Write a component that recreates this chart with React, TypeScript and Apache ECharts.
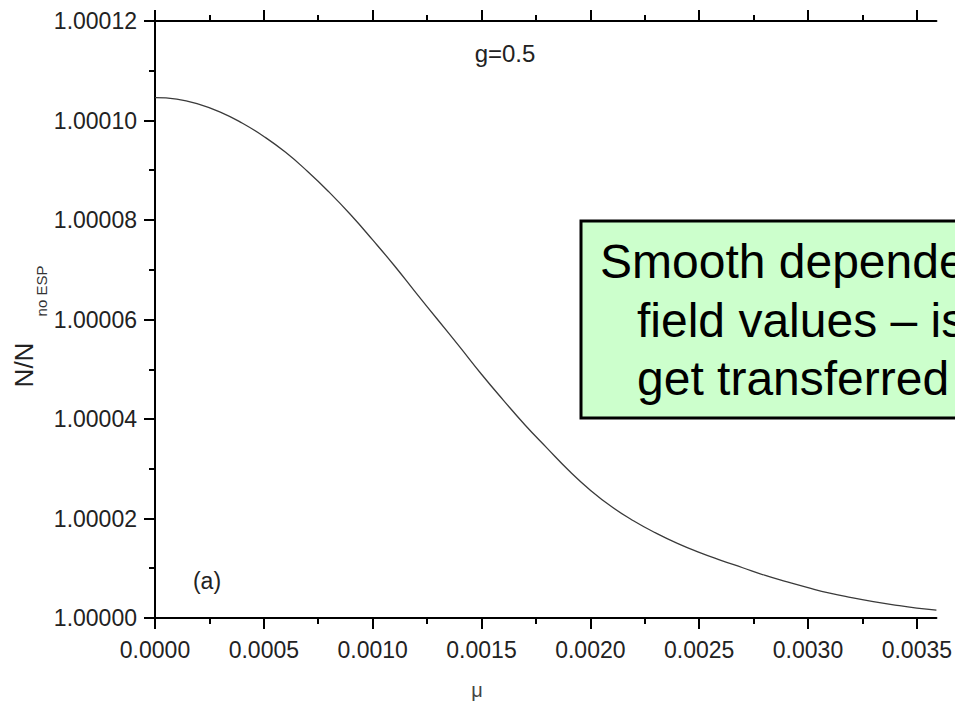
import React, { useEffect, useRef } from "react";
import * as echarts from "echarts";

// Chemical potential μ and the ratio N/N(no ESP) along the curve (g = 0.5)
const muValues = [
  0, 0.0001, 0.0002, 0.0003, 0.0004, 0.0005, 0.0006, 0.0007, 0.0008, 0.0009,
  0.001, 0.0011, 0.0012, 0.0013, 0.0014, 0.0015, 0.0016, 0.0017, 0.0018, 0.0019,
  0.002, 0.0021, 0.0022, 0.0023, 0.0024, 0.0025, 0.0026, 0.0027, 0.0028, 0.0029,
  0.003, 0.0031, 0.0032, 0.0033, 0.0034, 0.0035, 0.00359,
];
const ratioValues = [
  1.0001046, 1.0001043, 1.0001033, 1.0001017, 1.0000995, 1.0000968, 1.0000936, 1.0000898, 1.0000856, 1.000081,
  1.000076, 1.0000708, 1.0000653, 1.0000599, 1.0000545, 1.000049, 1.0000438, 1.0000388, 1.0000342, 1.0000297,
  1.0000257, 1.0000223, 1.0000195, 1.0000171, 1.000015, 1.0000132, 1.0000116, 1.0000101, 1.0000086, 1.0000073,
  1.0000061, 1.000005, 1.0000041, 1.0000033, 1.0000026, 1.000002, 1.0000016,
];

// Axis ticks
const xMajorTicks = [0, 0.0005, 0.001, 0.0015, 0.002, 0.0025, 0.003, 0.0035];
const xMinorTicks = [0.00025, 0.00075, 0.00125, 0.00175, 0.00225, 0.00275, 0.00325];
const yTickLabels = ["1.00000", "1.00002", "1.00004", "1.00006", "1.00008", "1.00010", "1.00012"];

const X_MIN = 0;
const X_MAX = 0.00359;
const Y_MIN = 1.0;
const Y_MAX = 1.00012;

const boxLines = ["Smooth dependence", "field values – is", "get transferred"];

const FONT = "'Liberation Sans', Arial, Helvetica, sans-serif";

export default function App() {
  const ref = useRef<HTMLDivElement>(null);

  useEffect(() => {
    if (!ref.current) return;
    const chart = echarts.init(ref.current, undefined, { renderer: "svg" });

    const axisLine = { show: true, lineStyle: { color: "#000", width: 2 } };
    const tickStyle = { color: "#000", width: 2 };

    const xCommon = {
      type: "value" as const,
      min: X_MIN,
      max: X_MAX,
      interval: 0.0005,
      splitLine: { show: false },
    };

    const option: any = {
      animation: false,
      backgroundColor: "#fff",
      grid: { left: 155, top: 21, right: 17, bottom: 101, containLabel: false },
      xAxis: [
        {
          ...xCommon,
          position: "bottom",
          axisLine,
          axisTick: { show: true, inside: false, length: 11, lineStyle: tickStyle, customValues: xMajorTicks },
          axisLabel: {
            customValues: xMajorTicks,
            formatter: (v: number) => v.toFixed(4),
            fontSize: 23,
            color: "#222",
            fontFamily: FONT,
            margin: 20,
          },
        },
        {
          ...xCommon,
          position: "bottom",
          axisLine: { show: false },
          axisTick: { show: true, inside: false, length: 6, lineStyle: tickStyle, customValues: xMinorTicks },
          axisLabel: { show: false },
        },
        {
          ...xCommon,
          position: "top",
          axisLine,
          axisTick: { show: true, inside: false, length: 11, lineStyle: tickStyle, customValues: xMajorTicks },
          axisLabel: { show: false },
        },
        {
          ...xCommon,
          position: "top",
          axisLine: { show: false },
          axisTick: { show: true, inside: false, length: 6, lineStyle: tickStyle, customValues: xMinorTicks },
          axisLabel: { show: false },
        },
      ],
      yAxis: [
        {
          type: "value",
          position: "left",
          min: Y_MIN,
          max: Y_MAX,
          interval: 0.00002,
          axisLine,
          axisTick: { show: true, inside: false, length: 11, lineStyle: tickStyle },
          minorTick: { show: true, splitNumber: 2, length: 6, lineStyle: tickStyle },
          splitLine: { show: false },
          minorSplitLine: { show: false },
          axisLabel: {
            formatter: (v: number) => {
              const i = Math.round((v - Y_MIN) / 0.00002);
              return yTickLabels[i] ?? "";
            },
            fontSize: 23,
            color: "#222",
            fontFamily: FONT,
            margin: 18,
          },
        },
        {
          type: "value",
          position: "right",
          min: Y_MIN,
          max: Y_MAX,
          interval: 0.00002,
          axisLine,
          axisTick: { show: false },
          axisLabel: { show: false },
          splitLine: { show: false },
        },
      ],
      series: [
        {
          type: "line",
          xAxisIndex: 0,
          yAxisIndex: 0,
          data: muValues.map((m, i) => [m, ratioValues[i]]),
          showSymbol: false,
          smooth: 0.5,
          lineStyle: { color: "#3a3a3a", width: 1.3 },
        },
      ],
      graphic: [
        {
          type: "text",
          x: 505,
          y: 53,
          style: { text: "g=0.5", font: `24px ${FONT}`, fill: "#222", align: "center", verticalAlign: "middle" },
        },
        {
          type: "text",
          x: 207,
          y: 581,
          style: { text: "(a)", font: `23px ${FONT}`, fill: "#222", align: "center", verticalAlign: "middle" },
        },
        {
          type: "text",
          x: 477,
          y: 690,
          style: { text: "μ", font: `20px ${FONT}`, fill: "#444", align: "center", verticalAlign: "middle" },
        },
        {
          type: "text",
          x: 24,
          y: 365,
          rotation: Math.PI / 2,
          style: { text: "N/N", font: `26px ${FONT}`, fill: "#222", align: "center", verticalAlign: "middle" },
        },
        {
          type: "text",
          x: 41,
          y: 291,
          rotation: Math.PI / 2,
          style: { text: "no ESP", font: `15px ${FONT}`, fill: "#333", align: "center", verticalAlign: "middle" },
        },
        {
          type: "group",
          z: 100,
          children: [
            {
              type: "rect",
              shape: { x: 581, y: 221, width: 420, height: 197 },
              style: { fill: "#CCFFCC", stroke: "#000", lineWidth: 3 },
            },
            ...boxLines.map((t, i) => ({
              type: "text",
              x: i === 0 ? 600 : 637,
              y: [261, 320, 378][i],
              style: { text: t, font: `48px ${FONT}`, fill: "#000", align: "left", verticalAlign: "middle" },
            })),
          ],
        },
      ],
    };

    chart.setOption(option);
    return () => chart.dispose();
  }, []);

  return (
    <div
      ref={ref}
      style={{ position: "absolute", left: 0, top: 0, width: 955, height: 719, background: "#fff" }}
    />
  );
}
